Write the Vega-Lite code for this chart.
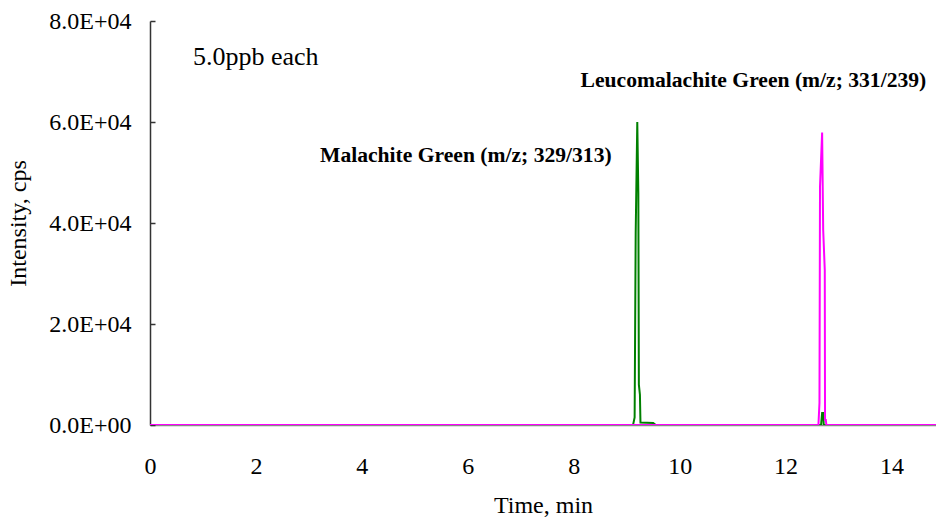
{
  "$schema": "https://vega.github.io/schema/vega-lite/v6.json",
  "width": 786,
  "height": 404,
  "autosize": {"type": "none"},
  "padding": {"left": 150, "top": 21, "right": 0, "bottom": 96},
  "background": "white",
  "config": {
    "view": {"stroke": null},
    "font": "Liberation Serif"
  },
  "datasets": {
    "traces": [
      {"series": "MG", "t": 0, "v": 0},
      {"series": "MG", "t": 9.12, "v": 0},
      {"series": "MG", "t": 9.15, "v": 1500},
      {"series": "MG", "t": 9.17, "v": 38000},
      {"series": "MG", "t": 9.20, "v": 60000},
      {"series": "MG", "t": 9.22, "v": 46000},
      {"series": "MG", "t": 9.23, "v": 8000},
      {"series": "MG", "t": 9.25, "v": 6000},
      {"series": "MG", "t": 9.26, "v": 500},
      {"series": "MG", "t": 9.50, "v": 400},
      {"series": "MG", "t": 9.55, "v": 0},
      {"series": "MG", "t": 12.67, "v": 0},
      {"series": "MG", "t": 12.69, "v": 2400},
      {"series": "MG", "t": 12.71, "v": 2400},
      {"series": "MG", "t": 12.72, "v": 0},
      {"series": "MG", "t": 14.84, "v": 0},
      {"series": "LMG", "t": 0, "v": 0},
      {"series": "LMG", "t": 12.62, "v": 0},
      {"series": "LMG", "t": 12.64, "v": 4400},
      {"series": "LMG", "t": 12.65, "v": 47200},
      {"series": "LMG", "t": 12.69, "v": 57900},
      {"series": "LMG", "t": 12.71, "v": 38600},
      {"series": "LMG", "t": 12.74, "v": 30700},
      {"series": "LMG", "t": 12.745, "v": 1000},
      {"series": "LMG", "t": 12.76, "v": 1000},
      {"series": "LMG", "t": 12.77, "v": 0},
      {"series": "LMG", "t": 14.84, "v": 0}
    ],
    "note": [
      {"t": 0.81, "v": 72900, "label": "5.0ppb each"}
    ],
    "names": [
      {"t": 8.13, "v": 68100, "label": "Leucomalachite Green (m/z; 331/239)"},
      {"t": 3.21, "v": 53300, "label": "Malachite Green (m/z; 329/313)"}
    ]
  },
  "layer": [
    {
      "data": {"name": "traces"},
      "mark": {"type": "line", "strokeWidth": 2, "clip": true},
      "encoding": {
        "x": {
          "field": "t", "type": "quantitative",
          "scale": {"domain": [0, 14.84], "nice": false, "zero": false},
          "axis": {
            "title": "Time, min", "values": [0, 2, 4, 6, 8, 10, 12, 14],
            "grid": false, "ticks": false, "domainColor": "#888888", "domainWidth": 1.5,
            "labelFontSize": 24, "labelColor": "black", "labelPadding": 29, "labelFlush": false,
            "titleFontSize": 24, "titleFontWeight": "normal", "titleColor": "black", "titlePadding": 15,
            "labelFont": "Liberation Serif", "titleFont": "Liberation Serif"
          }
        },
        "y": {
          "field": "v", "type": "quantitative",
          "scale": {"domain": [0, 80000], "nice": false},
          "axis": {
            "title": "Intensity, cps", "values": [0, 20000, 40000, 60000, 80000],
            "labelExpr": "datum.value == 0 ? '0.0E+00' : format(datum.value / 10000, '.1f') + 'E+04'",
            "grid": false, "tickSize": -5, "tickColor": "#333333", "tickWidth": 1.5,
            "domainColor": "#333333", "domainWidth": 1.5,
            "labelFontSize": 24, "labelColor": "black", "labelPadding": 24, "labelFlush": false,
            "titleFontSize": 24, "titleFontWeight": "normal", "titleColor": "black", "titlePadding": 18,
            "labelFont": "Liberation Serif", "titleFont": "Liberation Serif"
          }
        },
        "color": {
          "field": "series", "type": "nominal",
          "scale": {"domain": ["MG", "LMG"], "range": ["#008000", "#ff00ff"]},
          "legend": null
        },
        "order": {"field": "series", "sort": "descending"}
      }
    },
    {
      "data": {"name": "note"},
      "mark": {"type": "text", "align": "left", "baseline": "middle", "font": "Liberation Serif", "fontSize": 26, "fontWeight": "normal", "color": "black"},
      "encoding": {
        "x": {"field": "t", "type": "quantitative"},
        "y": {"field": "v", "type": "quantitative"},
        "text": {"field": "label"}
      }
    },
    {
      "data": {"name": "names"},
      "mark": {"type": "text", "align": "left", "baseline": "middle", "font": "Liberation Serif", "fontSize": 21.6, "fontWeight": "bold", "color": "black"},
      "encoding": {
        "x": {"field": "t", "type": "quantitative"},
        "y": {"field": "v", "type": "quantitative"},
        "text": {"field": "label"}
      }
    }
  ]
}
